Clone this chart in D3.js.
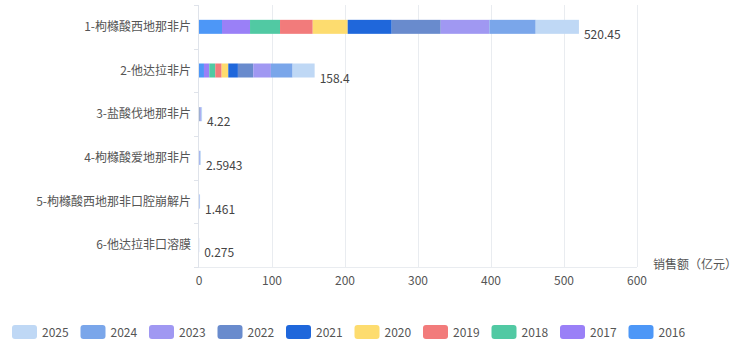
<!DOCTYPE html>
<html><head><meta charset="utf-8">
<script src="https://cdn.jsdelivr.net/npm/d3@7"></script>
<style>body{margin:0;background:#fff;}svg{display:block;font-family:"Noto Sans CJK SC","Noto Sans",sans-serif;}</style>
</head><body><svg id="c" width="741" height="355"></svg>
<script>
const categories = ["1-枸橼酸西地那非片","2-他达拉非片","3-盐酸伐地那非片","4-枸橼酸爱地那非片","5-枸橼酸西地那非口腔崩解片","6-他达拉非口溶膜"];
const totals = [520.45, 158.4, 4.22, 2.5943, 1.461, 0.275];
const years = ["2016","2017","2018","2019","2020","2021","2022","2023","2024","2025"];
const v2016 = [31.5, 6.8, 0, 0, 0, 0];
const v2017 = [38.4, 7.3, 0, 0, 0, 0];
const v2018 = [41.1, 8.2, 0, 0, 0, 0];
const v2019 = [44.8, 8.7, 0.2, 0, 0, 0];
const v2020 = [47.9, 9.1, 0.3, 0, 0, 0];
const v2021 = [60.3, 13.2, 0.4, 0.1, 0, 0];
const v2022 = [67.1, 21.0, 0.8, 0.3, 0.2, 0];
const v2023 = [66.7, 24.2, 0.9, 0.5, 0.3, 0.05];
const v2024 = [63.4, 29.7, 0.8, 0.8, 0.45, 0.1];
const v2025 = [59.25, 30.2, 0.82, 0.8943, 0.511, 0.125];
const seriesValues = [v2016,v2017,v2018,v2019,v2020,v2021,v2022,v2023,v2024,v2025];
const colors = ["#4d97f7","#9a80f7","#51c9a3","#f27b7b","#fddc6f","#1f67db","#698bcd","#a098f2","#7aa6ea","#bfd8f5"];
const xTicks = [0,100,200,300,400,500,600];
const legendOrder = ["2025","2024","2023","2022","2021","2020","2019","2018","2017","2016"];

const svg = d3.select("#c");
const x0 = 199, x1 = 637, yTop = 5, yBot = 267;
const x = d3.scaleLinear().domain([0,600]).range([x0,x1]);
const y = d3.scaleBand().domain(categories).range([yTop,yBot]);

// grid
svg.append("g").selectAll("line").data(xTicks.slice(1)).join("line")
  .attr("x1",d=>x(d)).attr("x2",d=>x(d)).attr("y1",yTop).attr("y2",yBot)
  .attr("stroke","#e9ecf0").attr("stroke-width",1).attr("shape-rendering","crispEdges");
// x axis line
svg.append("line").attr("x1",x0).attr("x2",x1).attr("y1",yBot+0.5).attr("y2",yBot+0.5).attr("stroke","#e9ecf0");
// y axis
svg.append("line").attr("x1",x0-0.5).attr("x2",x0-0.5).attr("y1",yTop).attr("y2",yBot).attr("stroke","#dfe3ea");
const bounds = categories.map(c=>y(c)).concat([yBot]);
svg.append("g").selectAll("line").data(bounds).join("line")
  .attr("x1",x0-5).attr("x2",x0).attr("y1",d=>Math.round(d)+0.5).attr("y2",d=>Math.round(d)+0.5).attr("stroke","#dfe3ea");

// x tick labels
svg.append("g").selectAll("text").data(xTicks).join("text")
  .attr("x",d=>x(d)).attr("y",285).attr("text-anchor","middle")
  .attr("font-size",12).attr("fill","#555").text(d=>d);
svg.append("text").attr("x",653).attr("y",269).attr("font-size",12).attr("fill","#555").text("销售额（亿元）");

// category labels
svg.append("g").selectAll("text").data(categories).join("text")
  .attr("x",191).attr("y",d=>y(d)+y.bandwidth()/2+4).attr("text-anchor","end")
  .attr("font-size",12).attr("fill","#555").text(d=>d);

// stacked bars
const barH = 14;
categories.forEach((c,i)=>{
  let acc = 0;
  seriesValues.forEach((s,j)=>{
    const v = s[i];
    if(v>0){
      svg.append("rect").attr("x",x(acc)).attr("y",y(c)+y.bandwidth()/2-barH/2)
        .attr("width",x(acc+v)-x(acc)).attr("height",barH).attr("fill",colors[j]);
    }
    acc += v;
  });
});
// value labels
svg.append("g").selectAll("text").data(categories).join("text")
  .attr("x",(d,i)=>x(totals[i])+5).attr("y",d=>y(d)+y.bandwidth()/2+12)
  .attr("font-size",12).attr("fill","#444").text((d,i)=>totals[i]);

// legend
const lg = svg.append("g");
legendOrder.forEach((yr,k)=>{
  const j = years.indexOf(yr);
  const lx = 12 + k*68.5;
  lg.append("rect").attr("x",lx).attr("y",325).attr("width",25).attr("height",14).attr("rx",3).attr("fill",colors[j]);
  lg.append("text").attr("x",lx+30).attr("y",336.5).attr("font-size",12).attr("fill","#555").text(yr);
});
</script></body></html>
